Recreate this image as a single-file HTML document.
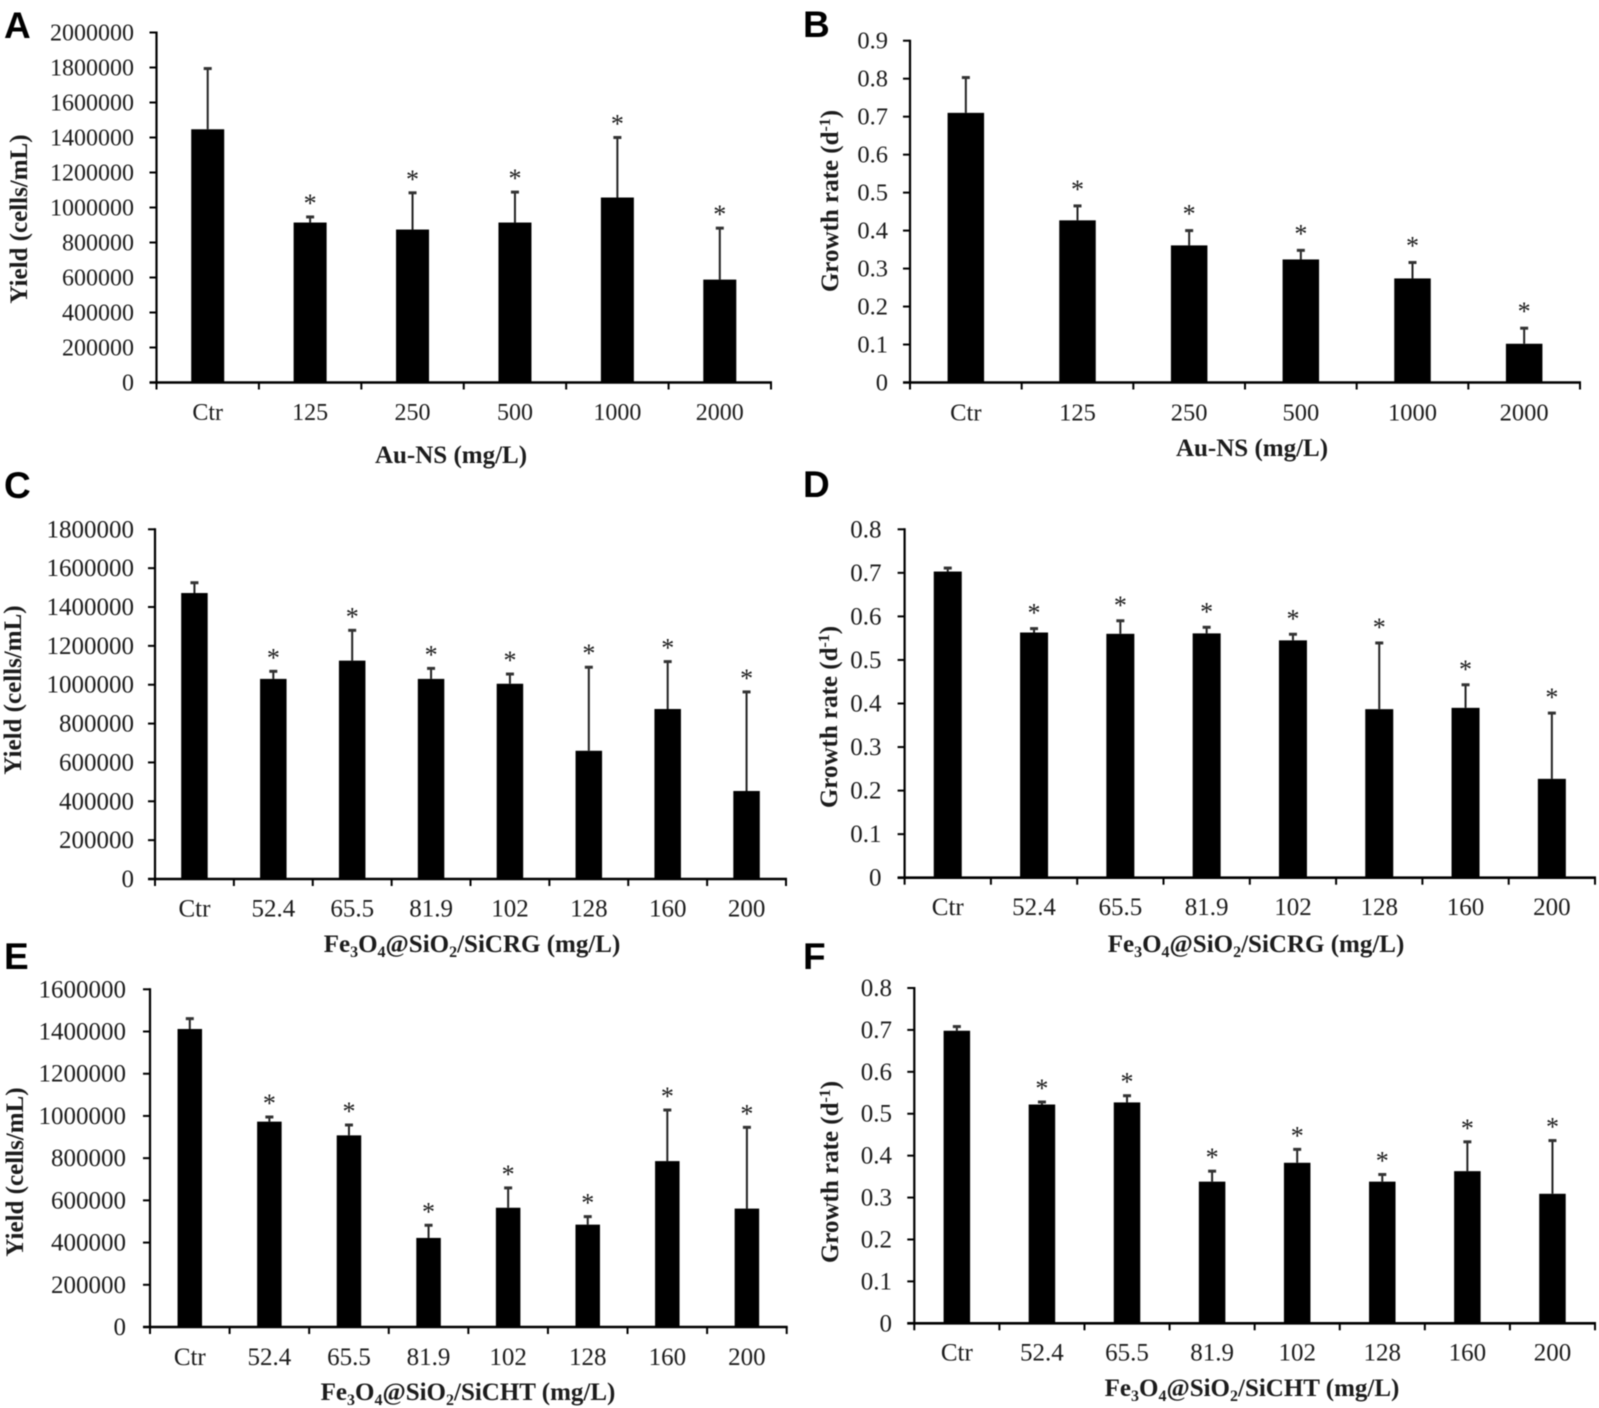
<!DOCTYPE html>
<html lang="en">
<head>
<meta charset="utf-8">
<title>Yield and growth rate bar charts</title>
<style>
  html, body { margin: 0; padding: 0; background: #fff; }
  #figure { display: block; width: 1599px; height: 1408px; filter: blur(0.45px); }
  text { font-family: "Liberation Serif", serif; fill: #1c1c1c; }
  .panel-letter { font-family: "Liberation Sans", sans-serif; font-weight: 700; font-size: 37px; fill: #000; }
  .axis-title { font-weight: 700; font-size: 25px; text-anchor: middle; }
</style>
</head>
<body>
<svg id="figure" xmlns="http://www.w3.org/2000/svg" width="1599" height="1408" viewBox="0 0 1599 1408">
  <rect x="0" y="0" width="1599" height="1408" fill="#fff"/>

  <text class="panel-letter" x="4" y="38">A</text>
  <text class="panel-letter" x="803" y="37">B</text>
  <text class="panel-letter" x="4" y="498">C</text>
  <text class="panel-letter" x="803" y="497">D</text>
  <text class="panel-letter" x="4" y="969">E</text>
  <text class="panel-letter" x="803" y="969">F</text>

  <text class="axis-title" transform="translate(27,219) rotate(-90)">Yield (cells/mL)</text>
  <text class="axis-title" transform="translate(838,201) rotate(-90)">Growth rate (d<tspan font-size="16" dy="-8">-1</tspan><tspan dy="8">)</tspan></text>
  <text class="axis-title" transform="translate(21,690) rotate(-90)">Yield (cells/mL)</text>
  <text class="axis-title" transform="translate(837,717) rotate(-90)">Growth rate (d<tspan font-size="16" dy="-8">-1</tspan><tspan dy="8">)</tspan></text>
  <text class="axis-title" transform="translate(23,1172) rotate(-90)">Yield (cells/mL)</text>
  <text class="axis-title" transform="translate(838,1172) rotate(-90)">Growth rate (d<tspan font-size="16" dy="-8">-1</tspan><tspan dy="8">)</tspan></text>

  <text class="axis-title" x="451" y="463">Au-NS (mg/L)</text>
  <text class="axis-title" x="1252" y="456">Au-NS (mg/L)</text>
  <text class="axis-title" x="472" y="952">Fe<tspan font-size="16" dy="5">3</tspan><tspan dy="-5">O</tspan><tspan font-size="16" dy="5">4</tspan><tspan dy="-5">@SiO</tspan><tspan font-size="16" dy="5">2</tspan><tspan dy="-5">/SiCRG (mg/L)</tspan></text>
  <text class="axis-title" x="1256" y="952">Fe<tspan font-size="16" dy="5">3</tspan><tspan dy="-5">O</tspan><tspan font-size="16" dy="5">4</tspan><tspan dy="-5">@SiO</tspan><tspan font-size="16" dy="5">2</tspan><tspan dy="-5">/SiCRG (mg/L)</tspan></text>
  <text class="axis-title" x="468" y="1400">Fe<tspan font-size="16" dy="5">3</tspan><tspan dy="-5">O</tspan><tspan font-size="16" dy="5">4</tspan><tspan dy="-5">@SiO</tspan><tspan font-size="16" dy="5">2</tspan><tspan dy="-5">/SiCHT (mg/L)</tspan></text>
  <text class="axis-title" x="1252" y="1396">Fe<tspan font-size="16" dy="5">3</tspan><tspan dy="-5">O</tspan><tspan font-size="16" dy="5">4</tspan><tspan dy="-5">@SiO</tspan><tspan font-size="16" dy="5">2</tspan><tspan dy="-5">/SiCHT (mg/L)</tspan></text>
</svg>

<script>
// Categories
const auCategories = ["Ctr", "125", "250", "500", "1000", "2000"];
const feCategories = ["Ctr", "52.4", "65.5", "81.9", "102", "128", "160", "200"];

// Y-axis tick labels
const yieldTicks20 = ["0", "200000", "400000", "600000", "800000", "1000000", "1200000", "1400000", "1600000", "1800000", "2000000"];
const yieldTicks18 = ["0", "200000", "400000", "600000", "800000", "1000000", "1200000", "1400000", "1600000", "1800000"];
const yieldTicks16 = ["0", "200000", "400000", "600000", "800000", "1000000", "1200000", "1400000", "1600000"];
const rateTicks09 = ["0", "0.1", "0.2", "0.3", "0.4", "0.5", "0.6", "0.7", "0.8", "0.9"];
const rateTicks08 = ["0", "0.1", "0.2", "0.3", "0.4", "0.5", "0.6", "0.7", "0.8"];

// Panel A: yield, Au-NS
const panelAMeans = [1447000, 914000, 874000, 914000, 1057000, 588000];
const panelAErrorTops = [1794000, 946000, 1084000, 1088000, 1400000, 882000];
// Panel B: growth rate, Au-NS
const panelBMeans = [0.71, 0.427, 0.361, 0.324, 0.274, 0.102];
const panelBErrorTops = [0.803, 0.465, 0.4, 0.348, 0.316, 0.143];
// Panel C: yield, Fe3O4@SiO2/SiCRG
const panelCMeans = [1472000, 1030000, 1124000, 1030000, 1005000, 660000, 875000, 453000];
const panelCErrorTops = [1525000, 1069000, 1280000, 1084000, 1055000, 1090000, 1119000, 963000];
// Panel D: growth rate, Fe3O4@SiO2/SiCRG
const panelDMeans = [0.703, 0.563, 0.56, 0.561, 0.545, 0.387, 0.39, 0.227];
const panelDErrorTops = [0.711, 0.572, 0.59, 0.575, 0.559, 0.539, 0.443, 0.378];
// Panel E: yield, Fe3O4@SiO2/SiCHT
const panelEMeans = [1412000, 973000, 908000, 422000, 565000, 485000, 786000, 561000];
const panelEErrorTops = [1461000, 995000, 957000, 482000, 659000, 523000, 1028000, 946000];
// Panel F: growth rate, Fe3O4@SiO2/SiCHT
const panelFMeans = [0.698, 0.522, 0.527, 0.338, 0.383, 0.338, 0.363, 0.309];
const panelFErrorTops = [0.708, 0.528, 0.543, 0.363, 0.415, 0.355, 0.433, 0.436];

const SVG_NS = "http://www.w3.org/2000/svg";
const figure = document.getElementById("figure");

function make(tag, parent, props, text) {
  const el = document.createElementNS(SVG_NS, tag);
  for (const key in props) el.setAttribute(key, props[key]);
  if (text !== undefined) el.textContent = text;
  parent.appendChild(el);
  return el;
}

function drawPanel(p) {
  const maxValue = parseFloat(p.ticks[p.ticks.length - 1]);
  const yScale = v => p.bottom - (v / maxValue) * (p.bottom - p.top);
  const band = (p.right - p.left) / p.categories.length;
  const xScale = i => p.left + band * (i + 0.5);

  const group = make("g", figure, {});
  
  

  // bars
  p.means.forEach((value, i) => {
    const bar = make("rect", group, {
      x: xScale(i) - p.barWidth / 2,
      y: yScale(value),
      width: p.barWidth,
      height: p.bottom - yScale(value),
      fill: "#000"
    });
    
    
  });

  // error bars and significance stars
  p.errorTops.forEach((value, i) => {
    const cx = xScale(i);
    const yTop = yScale(value);
    const stem = make("line", group, {
      x1: cx, x2: cx, y1: yScale(p.means[i]), y2: yTop,
      stroke: "#222", "stroke-width": 2
    });
    
    
    const cap = make("line", group, {
      x1: cx - 4, x2: cx + 4, y1: yTop, y2: yTop,
      stroke: "#333", "stroke-width": 3
    });
    
    
    if (p.categories[i] !== "Ctr") {
      const star = make("text", group, {
        x: cx, y: yTop - p.starGap + 12,
        "text-anchor": "middle", "font-size": 26
      }, "*");
      
      
    }
  });

  // axes
  const yAxis = make("line", group, {
    x1: p.left, x2: p.left, y1: p.top - 1, y2: p.bottom + 1,
    stroke: "#000", "stroke-width": 2.2
  });
  
  
  const xAxis = make("line", group, {
    x1: p.left - 7, x2: p.right + 1, y1: p.bottom, y2: p.bottom,
    stroke: "#000", "stroke-width": 2.6
  });
  
  

  // y ticks and labels
  p.ticks.forEach(label => {
    const y = yScale(parseFloat(label));
    const tick = make("line", group, {
      x1: p.left - 7, x2: p.left, y1: y, y2: y,
      stroke: "#000", "stroke-width": 2
    });
    
    
    const text = make("text", group, {
      x: p.labelRight, y: y + 8,
      "text-anchor": "end", "font-size": p.fontSize
    }, label);
    
    
  });

  // x ticks
  for (let i = 0; i <= p.categories.length; i++) {
    const x = p.left + band * i;
    const tick = make("line", group, {
      x1: x, x2: x, y1: p.bottom, y2: p.bottom + 7,
      stroke: "#000", "stroke-width": 2
    });
    
    
  }

  // x labels
  p.categories.forEach((label, i) => {
    const text = make("text", group, {
      x: xScale(i), y: p.xLabelY,
      "text-anchor": "middle", "font-size": p.fontSize
    }, label);
    
    
  });
}

drawPanel({ id: "a", categories: auCategories, ticks: yieldTicks20, means: panelAMeans, errorTops: panelAErrorTops,
  left: 156.5, right: 771, top: 32.5, bottom: 382.5, barWidth: 33, labelRight: 134, xLabelY: 420, fontSize: 24, starGap: 17 });
drawPanel({ id: "b", categories: auCategories, ticks: rateTicks09, means: panelBMeans, errorTops: panelBErrorTops,
  left: 910, right: 1580, top: 40.7, bottom: 382.5, barWidth: 36.5, labelRight: 888, xLabelY: 420.5, fontSize: 24.5, starGap: 20 });
drawPanel({ id: "c", categories: feCategories, ticks: yieldTicks18, means: panelCMeans, errorTops: panelCErrorTops,
  left: 155, right: 786, top: 529.3, bottom: 879, barWidth: 26.5, labelRight: 134, xLabelY: 916.5, fontSize: 25, starGap: 17 });
drawPanel({ id: "d", categories: feCategories, ticks: rateTicks08, means: panelDMeans, errorTops: panelDErrorTops,
  left: 904.6, right: 1595, top: 529.3, bottom: 877.7, barWidth: 28, labelRight: 881.5, xLabelY: 915, fontSize: 25, starGap: 19 });
drawPanel({ id: "e", categories: feCategories, ticks: yieldTicks16, means: panelEMeans, errorTops: panelEErrorTops,
  left: 150, right: 786.7, top: 989.3, bottom: 1327, barWidth: 24.5, labelRight: 126, xLabelY: 1365, fontSize: 25, starGap: 17 });
drawPanel({ id: "f", categories: feCategories, ticks: rateTicks08, means: panelFMeans, errorTops: panelFErrorTops,
  left: 914.3, right: 1595, top: 988, bottom: 1323.3, barWidth: 26.5, labelRight: 892, xLabelY: 1360.5, fontSize: 25, starGap: 17 });
</script>
</body>
</html>
